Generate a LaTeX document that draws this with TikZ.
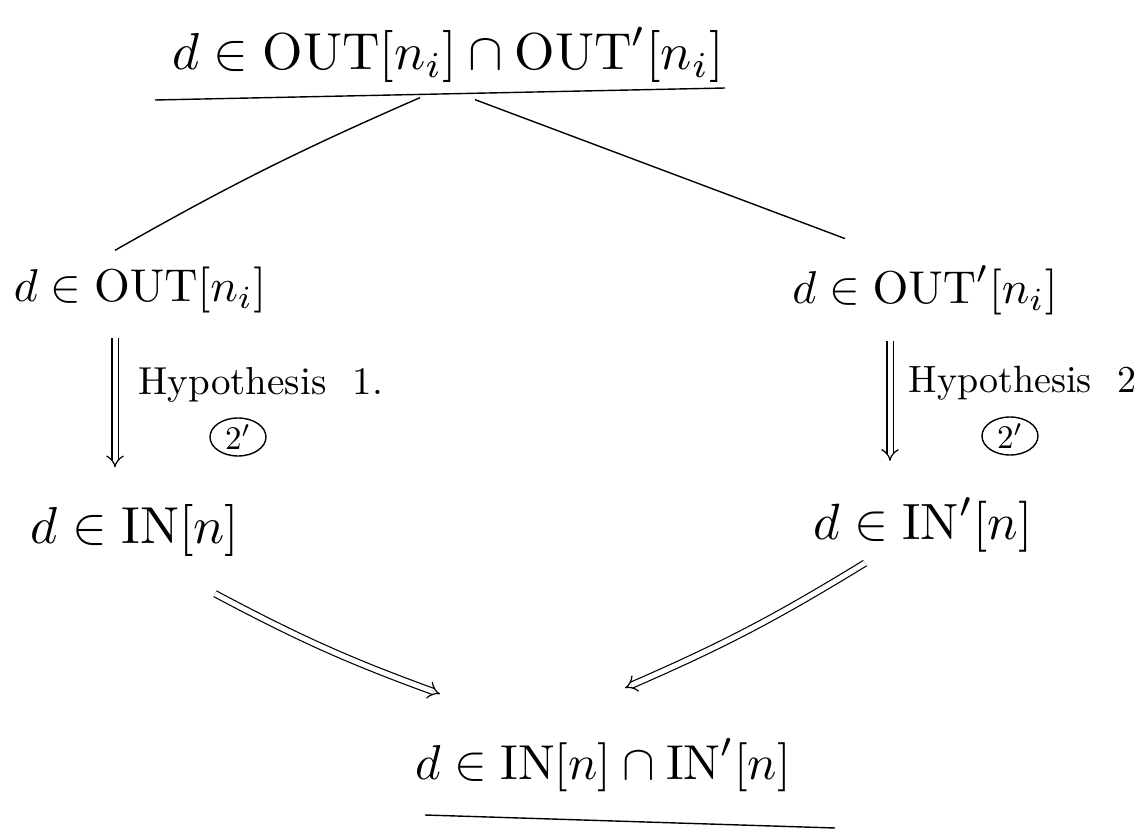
\documentclass[tikz,border=0pt]{standalone}
\usepackage{amsmath,amssymb}
\usepackage{graphicx}
\usepackage{tikz}
\usetikzlibrary{positioning,arrows.meta,calc,shapes.geometric}

\newcommand{\stmtmath}[2][4.6]{\scalebox{#1}{$#2$}}

\begin{document}
\begin{tikzpicture}[x=1pt, y=-1pt, >=Stealth, line width=1.4pt,
    stmt/.style={inner sep=4pt},
    hyp/.style={inner sep=2pt},
    ref/.style={draw, ellipse, minimum width=56pt, minimum height=38pt, inner sep=0pt},
    implies/.style={double, double distance=5pt, line width=1.2pt, -{Implies[length=11pt, width=22pt]}}]

  \useasboundingbox (0,0) rectangle (1144,829);

  % statements
  \node[stmt] (top) at (448,55) {\stmtmath[5.2]{d \in \mathrm{OUT}[n_i] \cap \mathrm{OUT}'[n_i]}};
  \node[stmt] (outl) at (140,290) {\stmtmath{d \in \mathrm{OUT}[n_i]}};
  \node[stmt] (outr) at (925,290) {\stmtmath{d \in \mathrm{OUT}'[n_i]}};
  \node[stmt] (inl) at (135,530) {\stmtmath[5.2]{d \in \mathrm{IN}[n]}};
  \node[stmt] (inr) at (923,525) {\stmtmath[5.1]{d \in \mathrm{IN}'[n]}};
  \node[stmt] (bot) at (603,765) {\stmtmath[4.9]{d \in \mathrm{IN}[n] \cap \mathrm{IN}'[n]}};

  % hypotheses
  \node[hyp, anchor=west] (hypl) at (136,385) {\scalebox{3.9}{Hypothesis\ \ 1.}};
  \node[ref] (refl) at (238,437) {\scalebox{3.3}{$2'$}};
  \node[hyp, anchor=west] (hypr) at (906,383) {\scalebox{3.8}{Hypothesis\ \ 2}};
  \node[ref] (refr) at (1010,436) {\scalebox{3.3}{$2'$}};

  % underlines
  \coordinate (ul1) at (155,100);
  \coordinate (ul2) at (725,88);
  \coordinate (bl1) at (425,815);
  \coordinate (bl2) at (835,828);
  \draw (ul1) -- (ul2);
  \draw (bl1) -- (bl2);

  % branches
  \draw ($(top.south)+(-28,10)$) to[bend right=3] ($(outl.north -| 115,0)+(0,-12)$);
  \draw ($(top.south)+(27,12)$) -- ($(outr.north -| 845,0)+(0,-22)$);

  % implications
  \draw[implies] ($(outl.south -| 115,0)+(0,20)$) -- ($(inl.north -| 115,0)+(0,-32)$);
  \draw[implies] ($(outr.south -| 890,0)+(0,22)$) -- ($(inr.north -| 890,0)+(0,-32)$);
  \draw[implies] ($(inl.south)+(80,33)$) to[bend right=4] ($(bot.north)+(-163,-40)$);
  \draw[implies] ($(inr.south)+(-58,6)$) to[bend left=4] ($(bot.north)+(22,-46)$);
\end{tikzpicture}
\end{document}
